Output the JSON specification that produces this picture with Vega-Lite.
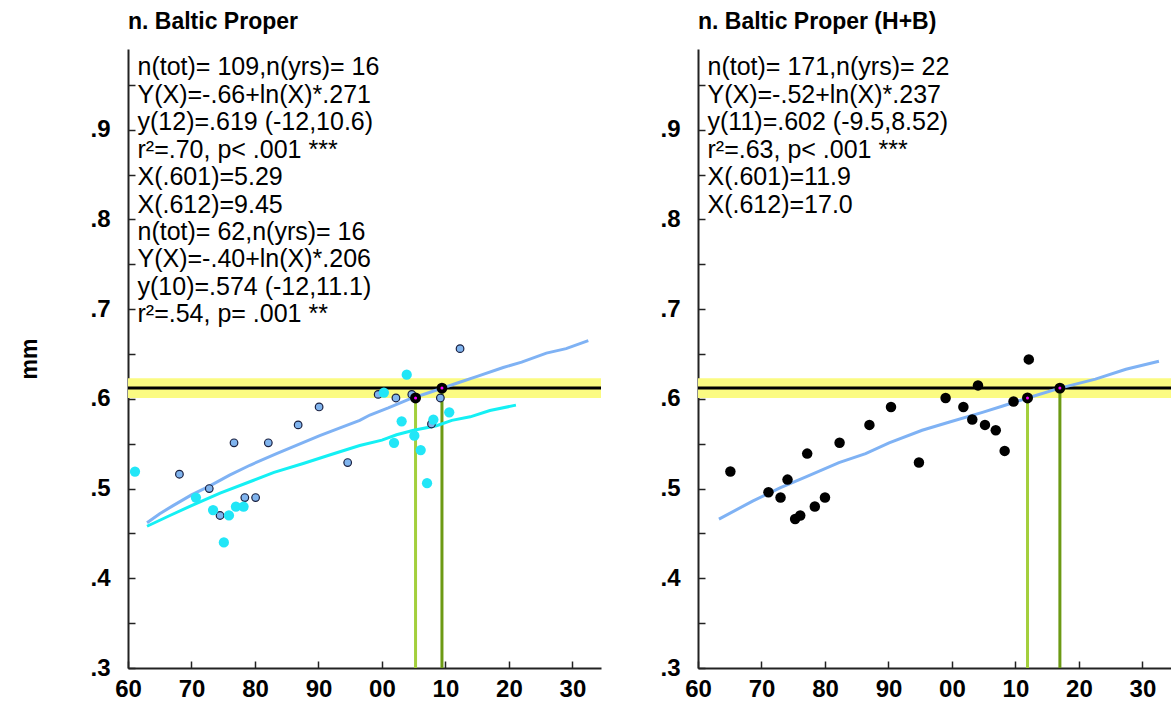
{
  "$schema": "https://vega.github.io/schema/vega-lite/v6.json",
  "autosize": {"type": "pad"},
  "padding": {"left": 18, "top": 11, "right": 0, "bottom": 0},
  "background": "white",
  "bounds": "flush",
  "spacing": 97,
  "config": {
    "font": "Liberation Sans",
    "view": {"stroke": null},
    "axis": {
      "grid": false,
      "domainColor": "#222222",
      "domainWidth": 2,
      "tickColor": "#222222",
      "tickWidth": 1.5,
      "labelFont": "Liberation Sans",
      "labelFontSize": 24,
      "labelFontWeight": "bold",
      "labelColor": "black",
      "labelOverlap": false,
      "labelFlush": false,
      "titleFont": "Liberation Sans",
      "titleFontSize": 23,
      "titleFontWeight": "bold",
      "titleColor": "black"
    },
    "title": {"font": "Liberation Sans", "fontSize": 23, "fontWeight": "bold", "anchor": "start", "frame": "group", "color": "black", "offset": 15}
  },
  "datasets": {
    "band": [{"lo": 0.601, "hi": 0.623}],
    "target": [{"v": 0.612}],
    "vrL": [
      {"year": 2005.29, "top": 0.601, "base": 0.3, "kind": "X(.601)"},
      {"year": 2009.45, "top": 0.612, "base": 0.3, "kind": "X(.612)"}
    ],
    "vrR": [
      {"year": 2011.9, "top": 0.601, "base": 0.3, "kind": "X(.601)"},
      {"year": 2017.0, "top": 0.612, "base": 0.3, "kind": "X(.612)"}
    ],
    "lineL": [
      {"series": "H", "year": 1963.0, "mm": 0.462},
      {"series": "H", "year": 1965.0, "mm": 0.472},
      {"series": "H", "year": 1967.1, "mm": 0.481},
      {"series": "H", "year": 1970.0, "mm": 0.493},
      {"series": "H", "year": 1972.9, "mm": 0.503},
      {"series": "H", "year": 1976.0, "mm": 0.515},
      {"series": "H", "year": 1979.2, "mm": 0.526},
      {"series": "H", "year": 1983.4, "mm": 0.539},
      {"series": "H", "year": 1986.8, "mm": 0.549},
      {"series": "H", "year": 1990.2, "mm": 0.559},
      {"series": "H", "year": 1993.5, "mm": 0.568},
      {"series": "H", "year": 1996.5, "mm": 0.576},
      {"series": "H", "year": 1998.1, "mm": 0.582},
      {"series": "H", "year": 2001.0, "mm": 0.590},
      {"series": "H", "year": 2004.4, "mm": 0.600},
      {"series": "H", "year": 2007.0, "mm": 0.606},
      {"series": "H", "year": 2009.5, "mm": 0.612},
      {"series": "H", "year": 2012.0, "mm": 0.618},
      {"series": "H", "year": 2015.0, "mm": 0.625},
      {"series": "H", "year": 2019.1, "mm": 0.635},
      {"series": "H", "year": 2022.0, "mm": 0.641},
      {"series": "H", "year": 2025.9, "mm": 0.651},
      {"series": "H", "year": 2029.0, "mm": 0.656},
      {"series": "H", "year": 2032.5, "mm": 0.665},
      {"series": "B", "year": 1963.0, "mm": 0.458},
      {"series": "B", "year": 1966.6, "mm": 0.470},
      {"series": "B", "year": 1970.0, "mm": 0.481},
      {"series": "B", "year": 1974.5, "mm": 0.495},
      {"series": "B", "year": 1979.7, "mm": 0.509},
      {"series": "B", "year": 1983.0, "mm": 0.518},
      {"series": "B", "year": 1987.6, "mm": 0.528},
      {"series": "B", "year": 1992.0, "mm": 0.538},
      {"series": "B", "year": 1996.5, "mm": 0.548},
      {"series": "B", "year": 2000.0, "mm": 0.554},
      {"series": "B", "year": 2002.3, "mm": 0.560},
      {"series": "B", "year": 2005.0, "mm": 0.565},
      {"series": "B", "year": 2008.6, "mm": 0.570},
      {"series": "B", "year": 2011.0, "mm": 0.576},
      {"series": "B", "year": 2013.9, "mm": 0.580},
      {"series": "B", "year": 2017.0, "mm": 0.587},
      {"series": "B", "year": 2021.1, "mm": 0.593}
    ],
    "lineR": [
      {"year": 1963.3, "mm": 0.466},
      {"year": 1968.6, "mm": 0.486},
      {"year": 1973.0, "mm": 0.501},
      {"year": 1977.0, "mm": 0.513},
      {"year": 1982.2, "mm": 0.529},
      {"year": 1986.4, "mm": 0.539},
      {"year": 1990.1, "mm": 0.551},
      {"year": 1995.3, "mm": 0.565},
      {"year": 1999.5, "mm": 0.574},
      {"year": 2004.8, "mm": 0.585},
      {"year": 2008.0, "mm": 0.592},
      {"year": 2011.9, "mm": 0.601},
      {"year": 2017.0, "mm": 0.612},
      {"year": 2022.6, "mm": 0.622},
      {"year": 2027.4, "mm": 0.633},
      {"year": 2032.6, "mm": 0.642}
    ],
    "ptsLH": [
      {"year": 1968.1, "mm": 0.516},
      {"year": 1972.8, "mm": 0.500},
      {"year": 1974.5, "mm": 0.470},
      {"year": 1976.7, "mm": 0.551},
      {"year": 1978.4, "mm": 0.490},
      {"year": 1980.1, "mm": 0.490},
      {"year": 1982.1, "mm": 0.551},
      {"year": 1986.8, "mm": 0.571},
      {"year": 1990.1, "mm": 0.591},
      {"year": 1994.6, "mm": 0.529},
      {"year": 1999.4, "mm": 0.605},
      {"year": 2002.2, "mm": 0.601},
      {"year": 2004.7, "mm": 0.605},
      {"year": 2007.8, "mm": 0.572},
      {"year": 2009.2, "mm": 0.601},
      {"year": 2012.3, "mm": 0.656}
    ],
    "ptsLB": [
      {"year": 1961.1, "mm": 0.519},
      {"year": 1970.7, "mm": 0.490},
      {"year": 1973.4, "mm": 0.476},
      {"year": 1975.1, "mm": 0.440},
      {"year": 1975.9, "mm": 0.470},
      {"year": 1977.0, "mm": 0.480},
      {"year": 1978.2, "mm": 0.480},
      {"year": 2000.3, "mm": 0.607},
      {"year": 2001.9, "mm": 0.551},
      {"year": 2003.1, "mm": 0.575},
      {"year": 2003.9, "mm": 0.627},
      {"year": 2005.1, "mm": 0.559},
      {"year": 2006.1, "mm": 0.543},
      {"year": 2007.1, "mm": 0.506},
      {"year": 2008.1, "mm": 0.577},
      {"year": 2010.6, "mm": 0.585}
    ],
    "ptsR": [
      {"year": 1965.1, "mm": 0.519},
      {"year": 1971.1, "mm": 0.496},
      {"year": 1973.0, "mm": 0.490},
      {"year": 1974.1, "mm": 0.510},
      {"year": 1975.3, "mm": 0.466},
      {"year": 1976.1, "mm": 0.470},
      {"year": 1977.2, "mm": 0.539},
      {"year": 1978.4, "mm": 0.480},
      {"year": 1980.0, "mm": 0.490},
      {"year": 1982.3, "mm": 0.551},
      {"year": 1987.0, "mm": 0.571},
      {"year": 1990.4, "mm": 0.591},
      {"year": 1994.8, "mm": 0.529},
      {"year": 1999.0, "mm": 0.601},
      {"year": 2001.8, "mm": 0.591},
      {"year": 2003.2, "mm": 0.577},
      {"year": 2004.1, "mm": 0.615},
      {"year": 2005.2, "mm": 0.571},
      {"year": 2006.9, "mm": 0.565},
      {"year": 2008.3, "mm": 0.542},
      {"year": 2009.7, "mm": 0.597},
      {"year": 2012.1, "mm": 0.644}
    ],
    "txtL": [
      {"line": 1, "text": "n(tot)= 109,n(yrs)= 16"},
      {"line": 2, "text": "Y(X)=-.66+ln(X)*.271"},
      {"line": 3, "text": "y(12)=.619 (-12,10.6)"},
      {"line": 4, "text": "r²=.70, p< .001 ***"},
      {"line": 5, "text": "X(.601)=5.29"},
      {"line": 6, "text": "X(.612)=9.45"},
      {"line": 7, "text": "n(tot)= 62,n(yrs)= 16"},
      {"line": 8, "text": "Y(X)=-.40+ln(X)*.206"},
      {"line": 9, "text": "y(10)=.574 (-12,11.1)"},
      {"line": 10, "text": "r²=.54, p= .001 **"}
    ],
    "txtR": [
      {"line": 1, "text": "n(tot)= 171,n(yrs)= 22"},
      {"line": 2, "text": "Y(X)=-.52+ln(X)*.237"},
      {"line": 3, "text": "y(11)=.602 (-9.5,8.52)"},
      {"line": 4, "text": "r²=.63, p< .001 ***"},
      {"line": 5, "text": "X(.601)=11.9"},
      {"line": 6, "text": "X(.612)=17.0"}
    ]
  },
  "hconcat": [
    {
      "width": 473,
      "height": 619,
      "title": {"text": "n. Baltic Proper"},
      "layer": [
        {
          "layer": [
            {
              "data": {"name": "band"},
              "mark": {"type": "rect", "color": "#fbfb82"},
              "encoding": {
                "y": {"field": "lo", "type": "quantitative", "scale": {"domain": [0.3, 0.99], "nice": false, "zero": false},
                  "axis": {"title": "mm", "values": [0.3, 0.35, 0.4, 0.45, 0.5, 0.55, 0.6, 0.65, 0.7, 0.75, 0.8, 0.85, 0.9, 0.95],
                    "labelExpr": "abs(datum.value*10 - round(datum.value*10)) < 0.001 ? replace(format(datum.value, '.1f'), '0.', '.') : ''",
                    "tickSize": -7, "labelPadding": 25, "titlePadding": 48}},
                "y2": {"field": "hi"}
              }
            },
            {
              "data": {"name": "target"},
              "mark": {"type": "rule", "color": "black", "strokeWidth": 3},
              "encoding": {"y": {"field": "v", "type": "quantitative", "scale": {"domain": [0.3, 0.99], "nice": false, "zero": false}}}
            },
            {
              "data": {"name": "vrL"},
              "mark": {"type": "rule", "strokeWidth": 3},
              "encoding": {
                "x": {"field": "year", "type": "quantitative", "scale": {"domain": [1960, 2034.5], "nice": false, "zero": false},
                  "axis": {"title": null, "values": [1960, 1965, 1970, 1975, 1980, 1985, 1990, 1995, 2000, 2005, 2010, 2015, 2020, 2025, 2030],
                    "labelExpr": "datum.value % 10 == 0 ? slice('0' + (datum.value % 100), -2) : ''",
                    "tickSize": -7, "labelPadding": 16}},
                "y": {"field": "top", "type": "quantitative", "scale": {"domain": [0.3, 0.99], "nice": false, "zero": false}},
                "y2": {"field": "base"},
                "color": {"field": "kind", "type": "nominal", "scale": {"domain": ["X(.601)", "X(.612)"], "range": ["#a3cf3c", "#6c9a14"]}, "legend": null}
              }
            },
            {
              "data": {"name": "lineL"},
              "mark": {"type": "line", "strokeWidth": 3},
              "encoding": {
                "x": {"field": "year", "type": "quantitative", "scale": {"domain": [1960, 2034.5], "nice": false, "zero": false}},
                "y": {"field": "mm", "type": "quantitative", "scale": {"domain": [0.3, 0.99], "nice": false, "zero": false}},
                "detail": {"field": "series", "type": "nominal"},
                "stroke": {"field": "series", "type": "nominal", "scale": {"domain": ["H", "B"], "range": ["#7fb2f4", "#14f0f4"]}, "legend": null}
              }
            },
            {
              "data": {"name": "ptsLH"},
              "mark": {"type": "circle", "size": 58, "fill": "#80b4ee", "stroke": "#1a2040", "strokeWidth": 1.2, "opacity": 1},
              "encoding": {
                "x": {"field": "year", "type": "quantitative", "scale": {"domain": [1960, 2034.5], "nice": false, "zero": false}},
                "y": {"field": "mm", "type": "quantitative", "scale": {"domain": [0.3, 0.99], "nice": false, "zero": false}}
              }
            },
            {
              "data": {"name": "ptsLB"},
              "mark": {"type": "circle", "size": 105, "color": "#22e6f7", "opacity": 1},
              "encoding": {
                "x": {"field": "year", "type": "quantitative", "scale": {"domain": [1960, 2034.5], "nice": false, "zero": false}},
                "y": {"field": "mm", "type": "quantitative", "scale": {"domain": [0.3, 0.99], "nice": false, "zero": false}}
              }
            },
            {
              "data": {"name": "vrL"},
              "mark": {"type": "circle", "size": 120, "color": "black", "opacity": 1},
              "encoding": {
                "x": {"field": "year", "type": "quantitative", "scale": {"domain": [1960, 2034.5], "nice": false, "zero": false}},
                "y": {"field": "top", "type": "quantitative", "scale": {"domain": [0.3, 0.99], "nice": false, "zero": false}}
              }
            },
            {
              "data": {"name": "vrL"},
              "mark": {"type": "circle", "size": 9, "color": "#ff00ff", "opacity": 1},
              "encoding": {
                "x": {"field": "year", "type": "quantitative", "scale": {"domain": [1960, 2034.5], "nice": false, "zero": false}},
                "y": {"field": "top", "type": "quantitative", "scale": {"domain": [0.3, 0.99], "nice": false, "zero": false}}
              }
            }
          ]
        },
        {
          "data": {"name": "txtL"},
          "mark": {"type": "text", "align": "left", "baseline": "middle", "fontSize": 25, "color": "black", "font": "Liberation Sans"},
          "encoding": {
            "x": {"datum": 1961.5, "type": "quantitative", "scale": {"domain": [1960, 2034.5], "nice": false, "zero": false}},
            "y": {"field": "line", "type": "quantitative", "scale": {"domain": [0.33, 22.89], "reverse": true, "nice": false, "zero": false}, "axis": null},
            "text": {"field": "text", "type": "nominal"}
          }
        }
      ],
      "resolve": {"scale": {"y": "independent"}}
    },
    {
      "width": 473,
      "height": 619,
      "title": {"text": "n. Baltic Proper (H+B)"},
      "layer": [
        {
          "layer": [
            {
              "data": {"name": "band"},
              "mark": {"type": "rect", "color": "#fbfb82"},
              "encoding": {
                "y": {"field": "lo", "type": "quantitative", "scale": {"domain": [0.3, 0.99], "nice": false, "zero": false},
                  "axis": {"title": null, "values": [0.3, 0.35, 0.4, 0.45, 0.5, 0.55, 0.6, 0.65, 0.7, 0.75, 0.8, 0.85, 0.9, 0.95],
                    "labelExpr": "abs(datum.value*10 - round(datum.value*10)) < 0.001 ? replace(format(datum.value, '.1f'), '0.', '.') : ''",
                    "tickSize": -7, "labelPadding": 25}},
                "y2": {"field": "hi"}
              }
            },
            {
              "data": {"name": "target"},
              "mark": {"type": "rule", "color": "black", "strokeWidth": 3},
              "encoding": {"y": {"field": "v", "type": "quantitative", "scale": {"domain": [0.3, 0.99], "nice": false, "zero": false}}}
            },
            {
              "data": {"name": "vrR"},
              "mark": {"type": "rule", "strokeWidth": 3},
              "encoding": {
                "x": {"field": "year", "type": "quantitative", "scale": {"domain": [1960, 2034.5], "nice": false, "zero": false},
                  "axis": {"title": null, "values": [1960, 1965, 1970, 1975, 1980, 1985, 1990, 1995, 2000, 2005, 2010, 2015, 2020, 2025, 2030],
                    "labelExpr": "datum.value % 10 == 0 ? slice('0' + (datum.value % 100), -2) : ''",
                    "tickSize": -7, "labelPadding": 16}},
                "y": {"field": "top", "type": "quantitative", "scale": {"domain": [0.3, 0.99], "nice": false, "zero": false}},
                "y2": {"field": "base"},
                "color": {"field": "kind", "type": "nominal", "scale": {"domain": ["X(.601)", "X(.612)"], "range": ["#a3cf3c", "#6c9a14"]}, "legend": null}
              }
            },
            {
              "data": {"name": "lineR"},
              "mark": {"type": "line", "strokeWidth": 3, "color": "#7fb2f4"},
              "encoding": {
                "x": {"field": "year", "type": "quantitative", "scale": {"domain": [1960, 2034.5], "nice": false, "zero": false}},
                "y": {"field": "mm", "type": "quantitative", "scale": {"domain": [0.3, 0.99], "nice": false, "zero": false}}
              }
            },
            {
              "data": {"name": "ptsR"},
              "mark": {"type": "circle", "size": 110, "color": "black", "opacity": 1},
              "encoding": {
                "x": {"field": "year", "type": "quantitative", "scale": {"domain": [1960, 2034.5], "nice": false, "zero": false}},
                "y": {"field": "mm", "type": "quantitative", "scale": {"domain": [0.3, 0.99], "nice": false, "zero": false}}
              }
            },
            {
              "data": {"name": "vrR"},
              "mark": {"type": "circle", "size": 120, "color": "black", "opacity": 1},
              "encoding": {
                "x": {"field": "year", "type": "quantitative", "scale": {"domain": [1960, 2034.5], "nice": false, "zero": false}},
                "y": {"field": "top", "type": "quantitative", "scale": {"domain": [0.3, 0.99], "nice": false, "zero": false}}
              }
            },
            {
              "data": {"name": "vrR"},
              "mark": {"type": "circle", "size": 9, "color": "#ff00ff", "opacity": 1},
              "encoding": {
                "x": {"field": "year", "type": "quantitative", "scale": {"domain": [1960, 2034.5], "nice": false, "zero": false}},
                "y": {"field": "top", "type": "quantitative", "scale": {"domain": [0.3, 0.99], "nice": false, "zero": false}}
              }
            }
          ]
        },
        {
          "data": {"name": "txtR"},
          "mark": {"type": "text", "align": "left", "baseline": "middle", "fontSize": 25, "color": "black", "font": "Liberation Sans"},
          "encoding": {
            "x": {"datum": 1961.5, "type": "quantitative", "scale": {"domain": [1960, 2034.5], "nice": false, "zero": false}},
            "y": {"field": "line", "type": "quantitative", "scale": {"domain": [0.33, 22.89], "reverse": true, "nice": false, "zero": false}, "axis": null},
            "text": {"field": "text", "type": "nominal"}
          }
        }
      ],
      "resolve": {"scale": {"y": "independent"}}
    }
  ]
}
